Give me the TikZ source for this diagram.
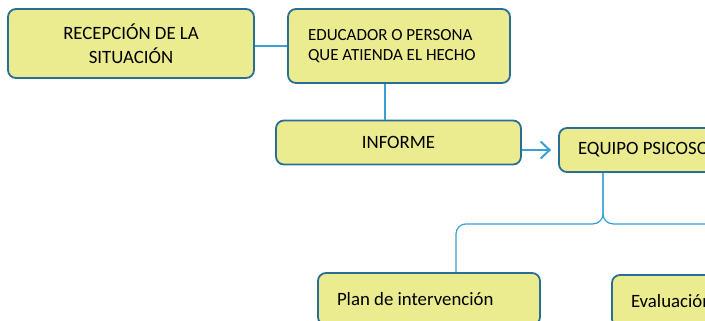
\documentclass[tikz,border=0pt]{standalone}
\usepackage{fontspec}
\setmainfont{Carlito}
\usetikzlibrary{arrows.meta,positioning}
\definecolor{boxfill}{HTML}{EBEB8F}
\definecolor{boxline}{HTML}{2A6E98}
\definecolor{link}{HTML}{3A9FD2}

\begin{document}
\begin{tikzpicture}[x=1pt,y=-1pt,% pixel coordinates, y downwards
			every node/.style={
				rectangle,rounded corners=8pt,
				draw=boxline,line width=1.8pt,fill=boxfill,
				font=\fontsize{18.8}{24}\selectfont
			},
			leftbox/.style={align=flush left,inner xsep=19pt},
			every edge/.style={draw=link,line width=1.3pt}
		]
		\path[use as bounding box] (0,0) rectangle (705,321);
		\clip (0,0) rectangle (705,321);
		\node[minimum width=246pt,minimum height=69pt,align=center](Recep) at (131,43.5){RECEPCIÓN DE LA \\ SITUACIÓN};
		\node[leftbox,inner xsep=20pt,text width=182pt,minimum height=74pt,font=\fontsize{17}{20}\selectfont](Educ) at (399,46){EDUCADOR O PERSONA \\ QUE ATIENDA EL HECHO};
		\node[minimum width=245pt,minimum height=44pt](Inform) at (398.5,142.5){INFORME};
		\node[leftbox,text width=262pt,minimum height=44pt](Equipo) at (709,150){EQUIPO PSICOSOCIAL};
		\node[leftbox,text width=184pt,minimum height=52pt](Plan) at (429,299){Plan de intervención};
		\node[leftbox,text width=262pt,minimum height=52pt](Eval) at (762,301){Evaluación};
		\path
		(Recep.east |- Educ.west) edge (Educ.west)
		([xshift=-14pt]Educ.south) edge ([xshift=-14pt]Educ.south |- Inform.north)
		(Inform.east |- Equipo.west) edge[line width=2pt,shorten >=7pt,-{Straight Barb[length=9pt,width=17pt,line width=2pt]}] (Equipo.west)
		;
		% branches below the team
		\draw[link,line width=1.2pt,rounded corners=10pt] ([xshift=-106pt]Equipo.south) -- ++(0,51) -| ([xshift=27pt]Plan.north);
		\draw[link,line width=1.2pt,rounded corners=10pt] ([xshift=-106pt]Equipo.south) -- ++(0,51) -| ([xshift=40pt]Eval.north);
	\end{tikzpicture}
\end{document}
